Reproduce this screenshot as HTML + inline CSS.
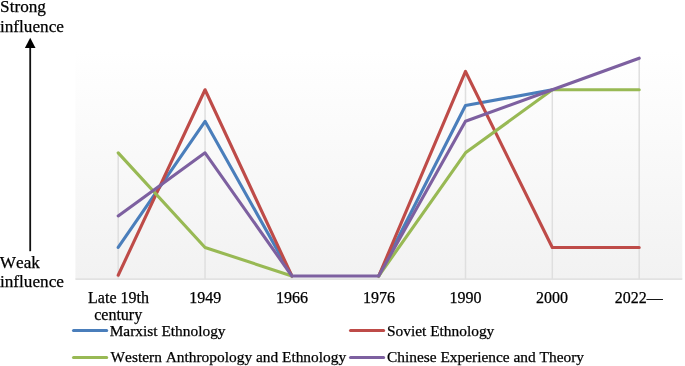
<!DOCTYPE html>
<html><head><meta charset="utf-8"><title>Influence chart</title>
<style>
html,body{margin:0;padding:0;background:#fff;}
body{width:685px;height:366px;overflow:hidden;}
svg{display:block;}
text{font-family:"Liberation Serif","Times New Roman",serif;fill:#000;font-kerning:none;stroke:#000;stroke-width:0.25px;}
.ax{font-size:16px;text-anchor:middle;}
.lg{font-size:15.4px;}
.big{font-size:17.2px;}
</style></head><body>
<svg width="685" height="366" viewBox="0 0 685 366">
<defs><linearGradient id="bg" x1="0" y1="0" x2="0" y2="1">
<stop offset="0" stop-color="#ffffff"/><stop offset="1" stop-color="#f2f2f2"/></linearGradient></defs>
<rect x="75.4" y="50" width="606.9" height="229" fill="url(#bg)"/>
<line x1="75.4" y1="279.2" x2="682.3" y2="279.2" stroke="#d9d9d9" stroke-width="1.2"/>
<g stroke="#dfdfdf" stroke-width="1.5"><line x1="118.2" y1="152.84" x2="118.2" y2="279"/><line x1="205.05" y1="89.76" x2="205.05" y2="279"/><line x1="291.9" y1="276.0" x2="291.9" y2="279"/><line x1="378.7" y1="276.0" x2="378.7" y2="279"/><line x1="465.5" y1="71.47" x2="465.5" y2="279"/><line x1="552.3" y1="89.76" x2="552.3" y2="279"/><line x1="639.2" y1="58.22" x2="639.2" y2="279"/></g>
<g fill="none" stroke-width="3.1" stroke-linecap="round" stroke-linejoin="round"><polyline points="118.2,247.46 205.05,121.3 291.9,276.0" stroke="#4a7ebb"/><polyline points="291.9,276.0 378.7,276.0" stroke="#4a7ebb" stroke-width="1.4"/><polyline points="378.7,276.0 465.5,105.53 552.3,89.76" stroke="#4a7ebb"/><polyline points="552.3,89.76 639.2,58.22" stroke="#4a7ebb" stroke-width="1.4"/><polyline points="118.2,275.22 205.05,89.76 291.9,276.0" stroke="#be4b48"/><polyline points="291.9,276.0 378.7,276.0" stroke="#be4b48" stroke-width="1.4"/><polyline points="378.7,276.0 465.5,71.47 552.3,247.46 639.2,247.46" stroke="#be4b48"/><polyline points="118.2,152.84 205.05,247.46 291.9,276.0" stroke="#98b954"/><polyline points="291.9,276.0 378.7,276.0" stroke="#98b954" stroke-width="1.4"/><polyline points="378.7,276.0 465.5,152.84 552.3,89.76 639.2,89.76" stroke="#98b954"/><polyline points="118.2,215.92 205.05,152.84 291.9,276.0 378.7,276.0 465.5,121.3 552.3,89.76 639.2,58.22" stroke="#7d60a0"/></g>
<line x1="30.2" y1="46" x2="30.2" y2="251.2" stroke="#111" stroke-width="1.8"/>
<polygon points="30.2,37.7 35.5,47.9 24.9,47.9" fill="#000"/>
<text class="big" x="0.1" y="12.1">Strong</text>
<text class="big" x="0" y="31.6">influence</text>
<text class="big" x="-0.2" y="267.5">Weak</text>
<text class="big" x="0" y="287.3">influence</text>
<text class="ax" x="118.5" y="302.6">Late 19th</text>
<text class="ax" x="118.2" y="320.3">century</text>
<text class="ax" x="205.3" y="302.6">1949</text>
<text class="ax" x="292" y="302.6">1966</text>
<text class="ax" x="378.9" y="302.6">1976</text>
<text class="ax" x="465.5" y="302.6">1990</text>
<text class="ax" x="552" y="302.6">2000</text>
<text class="ax" x="638.7" y="302.6">2022—</text>
<g fill="none" stroke-width="3.05" stroke-linecap="round">
<line x1="73.5" y1="330.4" x2="106.7" y2="330.4" stroke="#4a7ebb"/>
<line x1="350.5" y1="330.4" x2="383.6" y2="330.4" stroke="#be4b48"/>
<line x1="73.5" y1="357.4" x2="106.7" y2="357.4" stroke="#98b954"/>
<line x1="350.5" y1="357.4" x2="383.6" y2="357.4" stroke="#7d60a0"/>
</g>
<text class="lg" x="109.7" y="335.6">Marxist Ethnology</text>
<text class="lg" x="387.0" y="335.6">Soviet Ethnology</text>
<text class="lg" x="110.6" y="362.1">Western Anthropology and Ethnology</text>
<text class="lg" x="387.0" y="362.1">Chinese Experience and Theory</text>
</svg>
</body></html>
